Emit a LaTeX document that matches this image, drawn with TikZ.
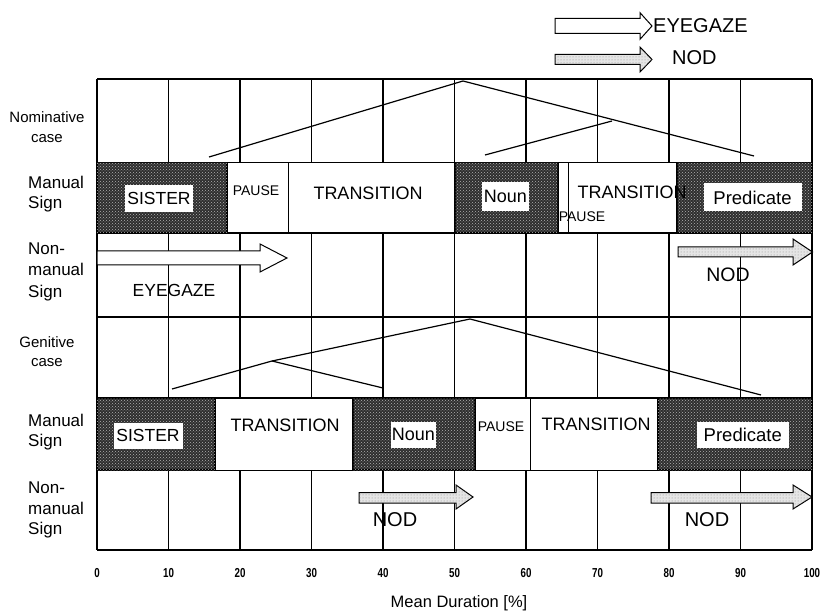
\documentclass[tikz,border=0pt]{standalone}
\usepackage{fontspec}
\setmainfont{Liberation Sans}
\usetikzlibrary{patterns}
\newcommand\mysize[1]{\fontsize{#1}{#1}\selectfont}
\newcommand\mysizeb[2]{\fontsize{#1}{#2}\selectfont}
\begin{document}
\begin{tikzpicture}[x=1pt,y=-1pt,
  hatchblock/.style={draw=black, line width=1.1pt, fill=black!82,
    postaction={pattern=crosshatch dots, pattern color=white!70!black}},
  plainblock/.style={draw=black, line width=1pt, fill=white},
  gridline/.style={line width=1.1pt},
  curve/.style={line width=1.2pt},
  whitebox/.style={fill=white, inner sep=0pt},
  lbl/.style={inner sep=0pt},
  sidelbl/.style={inner sep=0pt, align=left, anchor=west},
  eyearrow/.style={draw=black, line width=1pt, fill=white},
  nodarrow/.style={draw=black, line width=1pt, fill=black!10,
    postaction={pattern=dots, pattern color=black!45}},
]
\useasboundingbox (0,0) rectangle (827,612);
\fill[white] (0,0) rectangle (827,612);

% ---------- grid ----------
\foreach \i in {0,...,10} {
  \draw[gridline] ({97+71.5*\i},79) -- ({97+71.5*\i},550);
}
\foreach \yy in {79,162.7,233,317,398,470,550} {
  \draw[gridline] (97,\yy) -- (812,\yy);
}

% ---------- legend ----------
\draw[eyearrow] (555,18.5) -- (640,18.5) -- (640,12.7) -- (652,26) -- (640,39.3) -- (640,33.5) -- (555,33.5) -- cycle;
\node[lbl, anchor=west, font=\mysize{20}] (legeye) at (653,26) {EYEGAZE};
\draw[nodarrow] (555,54.5) -- (640,54.5) -- (640,47) -- (652,59.5) -- (640,72) -- (640,64.5) -- (555,64.5) -- cycle;
\node[lbl, anchor=west, font=\mysize{20}] (legnod) at (672,58) {NOD};

% ---------- Nominative case curves ----------
\draw[curve] (209,157) -- (463,81) -- (754,156);
\draw[curve] (485,155) -- (612,121);

% ---------- Manual sign (nominative) ----------
\draw[hatchblock] (97,162.7) rectangle (227,233);
\draw[plainblock] (227,162.7) rectangle (288,233);
\draw[plainblock] (288,162.7) rectangle (455,233);
\draw[hatchblock] (455,162.7) rectangle (558,233);
\draw[plainblock] (558,162.7) rectangle (568,233);
\draw[plainblock] (568,162.7) rectangle (677,233);
\draw[hatchblock] (677,162.7) rectangle (812,233);
\node[whitebox, minimum width=68, minimum height=27, font=\mysize{17.5}] (sisterA) at (159,198.3) {SISTER};
\node[lbl, font=\mysize{14}] (pauseA) at (256,191) {PAUSE};
\node[lbl, font=\mysize{18}] (transA) at (368,193) {TRANSITION};
\node[whitebox, minimum width=47, minimum height=29, font=\mysize{18}] (nounA) at (505.3,196.2) {Noun};
\node[lbl, font=\mysize{14}] (pauseB) at (582,217) {PAUSE};
\node[lbl, font=\mysize{18}] (transB) at (632,192) {TRANSITION};
\node[whitebox, minimum width=98, minimum height=28, font=\mysize{18.5}] (predA) at (752.5,197.5) {Predicate};

% ---------- Non-manual (nominative) ----------
\draw[eyearrow] (97,251) -- (260,251) -- (260,244) -- (287,258) -- (260,272) -- (260,265) -- (97,265) -- cycle;
\node[lbl, font=\mysize{17.5}] (eyeA) at (174,290) {EYEGAZE};
\draw[nodarrow] (678,247) -- (793,247) -- (793,239) -- (812.5,252) -- (793,265) -- (793,257) -- (678,257) -- cycle;
\node[lbl, font=\mysize{19.5}] (nodA) at (728,275) {NOD};

% ---------- Genitive case curves ----------
\draw[curve] (172,389) -- (272,361) -- (383,388);
\draw[curve] (272,361) -- (470,319) -- (761,395);

% ---------- Manual sign (genitive) ----------
\draw[hatchblock] (97,398) rectangle (215,470);
\draw[plainblock] (215,398) rectangle (353,470);
\draw[hatchblock] (353,398) rectangle (475,470);
\draw[plainblock] (475,398) rectangle (530,470);
\draw[plainblock] (530,398) rectangle (658,470);
\draw[hatchblock] (658,398) rectangle (812,470);
\node[whitebox, minimum width=69, minimum height=26, font=\mysize{17.5}] (sisterB) at (148,435.8) {SISTER};
\node[lbl, font=\mysize{18}] (transC) at (285,425) {TRANSITION};
\node[whitebox, minimum width=45, minimum height=26, font=\mysize{18}] (nounB) at (413.3,434.7) {Noun};
\node[lbl, font=\mysize{14}] (pauseC) at (501,427) {PAUSE};
\node[lbl, font=\mysize{18}] (transD) at (596,424) {TRANSITION};
\node[whitebox, minimum width=92, minimum height=26, font=\mysize{18.5}] (predB) at (742.8,434.7) {Predicate};

% ---------- Non-manual (genitive) ----------
\draw[nodarrow] (359,492.5) -- (456,492.5) -- (456,485) -- (473,497) -- (456,509) -- (456,503) -- (359,503) -- cycle;
\node[lbl, font=\mysize{20}] (nodB) at (395,520) {NOD};
\draw[nodarrow] (651,492.5) -- (793,492.5) -- (793,485) -- (812,497) -- (793,509) -- (793,503) -- (651,503) -- cycle;
\node[lbl, font=\mysize{20}] (nodC) at (707,520) {NOD};

% ---------- side labels ----------
\node[lbl, align=center, font=\mysizeb{15}{20}] (nomlbl) at (47,127) {Nominative\\case};
\node[sidelbl, font=\mysizeb{17}{20.5}] (man1) at (28,194) {Manual\\Sign};
\node[sidelbl, font=\mysizeb{17}{21.5}] (nm1) at (28,271.7) {Non-\\manual\\Sign};
\node[lbl, align=center, font=\mysizeb{15}{19}] (genlbl) at (47,352) {Genitive\\case};
\node[sidelbl, font=\mysizeb{17}{20.5}] (man2) at (28,432) {Manual\\Sign};
\node[sidelbl, font=\mysizeb{17}{20.5}] (nm2) at (28,510) {Non-\\manual\\Sign};

% ---------- axis ----------
\foreach \i in {0,...,10} {
  \pgfmathtruncatemacro\val{10*\i}
  \node[lbl, font=\mysize{13}\bfseries] (tick\i) at ({97+71.5*\i},573) {\scalebox{0.75}[1]{\val}};
}
\node[lbl, font=\mysize{16.5}] (xtitle) at (459,603) {Mean Duration [\%]};
\end{tikzpicture}
\end{document}
